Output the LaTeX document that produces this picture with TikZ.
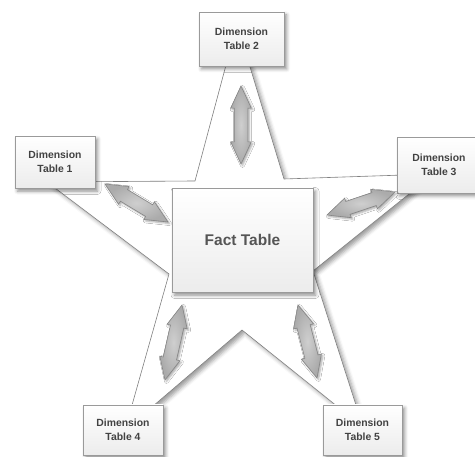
\documentclass[tikz,border=0pt]{standalone}
\usepackage{fontspec}
\newfontfamily\lsans{Liberation Sans}
\usetikzlibrary{shapes.arrows,shadows.blur}
\definecolor{boxline}{HTML}{9A9A9A}
\definecolor{boxbot}{HTML}{ECECEC}
\definecolor{txtdim}{HTML}{424242}
\definecolor{txtfact}{HTML}{555555}
\definecolor{starline}{HTML}{808080}
\definecolor{arrline}{HTML}{858585}
\definecolor{arrdark}{HTML}{ABABAB}
\definecolor{arrlight}{HTML}{CFCFCF}
\tikzset{
  softshadow/.style={blur shadow={shadow xshift=2.5pt, shadow yshift=-3pt, shadow blur radius=3.5pt, shadow opacity=45}},
  dimbox/.style={rectangle, draw=boxline, line width=0.6pt, top color=white, bottom color=boxbot,
     softshadow, text=txtdim, align=center, inner sep=0pt,
     font=\lsans\bfseries\fontsize{10.4}{14}\selectfont},
  factbox/.style={dimbox, text=txtfact, font=\lsans\bfseries\fontsize{15.5}{18}\selectfont},
  dblarrow/.style={shape=double arrow, double arrow head extend=3.5pt, double arrow tip angle=50,
     inner sep=6.5pt, minimum width=0pt, draw=arrline, line width=0.6pt,
     inner color=arrlight, outer color=arrdark,
     blur shadow={shadow xshift=1.5pt, shadow yshift=-1.5pt, shadow blur radius=2pt, shadow opacity=35}},
  starstyle/.style={draw=starline, line width=0.6pt, fill=white,
     blur shadow={shadow xshift=3pt, shadow yshift=-3pt, shadow blur radius=4pt, shadow opacity=40}}
}
\begin{document}
\begin{tikzpicture}[x=1pt,y=-1pt]
\useasboundingbox (0,0) rectangle (475,457);
% star outline
\coordinate (s1) at (237,24);
\coordinate (s2) at (284,179);
\coordinate (s3) at (434,174);
\coordinate (s4) at (313,271);
\coordinate (s5) at (363,427);
\coordinate (s6) at (242,330);
\coordinate (s7) at (125,430);
\coordinate (s8) at (169,274);
\coordinate (s9) at (47,182);
\coordinate (s10) at (195,181);
\path[starstyle] (s1) -- (s2) -- (s3) -- (s4) -- (s5) -- (s6) -- (s7) -- (s8) -- (s9) -- (s10) -- cycle;
% tables
\node[factbox, minimum width=141pt, minimum height=104pt] (fact) at (242.5,240) {Fact Table};
\node[dimbox, minimum width=80pt, minimum height=52pt] (d1) at (55,162) {Dimension\\Table 1};
\node[dimbox, minimum width=85pt, minimum height=54pt] (d2) at (241.5,39) {Dimension\\Table 2};
\node[dimbox, minimum width=84pt, minimum height=56pt] (d3) at (439,165) {Dimension\\Table 3};
\node[dimbox, minimum width=80pt, minimum height=50pt] (d4) at (123,430) {Dimension\\Table 4};
\node[dimbox, minimum width=79pt, minimum height=50pt] (d5) at (362.5,430) {Dimension\\Table 5};
% double arrows
\node[dblarrow, minimum height=78pt, rotate=90] (a1) at (241,125) {};
\node[dblarrow, minimum height=73.6pt, rotate=-31.1] (a2) at (136.5,203) {};
\node[dblarrow, minimum height=71.8pt, rotate=18.7] (a3) at (361,203.5) {};
\node[dblarrow, minimum height=76.9pt, rotate=77.2] (a4) at (173.5,342.5) {};
\node[dblarrow, minimum height=75.4pt, rotate=104.6] (a5) at (307.5,341.5) {};
\end{tikzpicture}
\end{document}
